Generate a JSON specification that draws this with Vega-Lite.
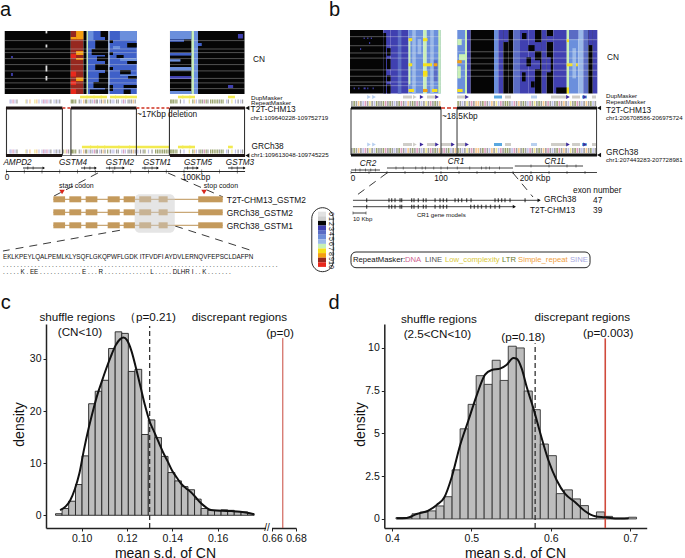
{
"$schema":"https://vega.github.io/schema/vega-lite/v6.json",
"background":"white","padding":0,"spacing":0,"bounds":"flush","columns":2,
"config":{"view":{"stroke":null},"font":"Liberation Sans","concat":{"spacing":0}},
"datasets":{
"heatA":[
{"s0":0,"s1":21,"k":-1,"k1":36.2,"cn":2},{"s0":0,"s1":21,"k":36.2,"k1":43.3,"cn":10},{"s0":0,"s1":21,"k":43.3,"k1":45.2,"cn":2},{"s0":0,"s1":21,"k":45.2,"k1":45.9,"cn":7},{"s0":0,"s1":21,"k":45.9,"k1":55.5,"cn":4},{"s0":0,"s1":21,"k":55.5,"k1":57.4,"cn":2},{"s0":0,"s1":21,"k":57.4,"k1":58.1,"cn":6},{"s0":0,"s1":21,"k":58.1,"k1":73.4,"cn":4},
{"s0":0,"s1":2.8,"k":39.2,"k1":43.3,"cn":9},{"s0":2,"s1":2.8,"k":36.2,"k1":39.2,"cn":9},{"s0":6.7,"s1":8,"k":39.2,"k1":43.3,"cn":9},{"s0":9,"s1":9.6,"k":39.2,"k1":43.3,"cn":9},{"s0":15.5,"s1":16.7,"k":39.2,"k1":43.3,"cn":9},
{"s0":7.7,"s1":9,"k":36.2,"k1":39.2,"cn":11},{"s0":13.5,"s1":15.2,"k":36.2,"k1":39.2,"cn":11},{"s0":16.7,"s1":18,"k":36.2,"k1":39.2,"cn":11},{"s0":19.3,"s1":21,"k":36.2,"k1":39.2,"cn":11},
{"s0":0,"s1":2,"k":53,"k1":55.5,"cn":2},{"s0":3,"s1":6,"k":50,"k1":55.5,"cn":2},{"s0":6,"s1":8,"k":48,"k1":55.5,"cn":2},{"s0":8.5,"s1":10,"k":51,"k1":55.5,"cn":2},{"s0":11,"s1":13,"k":50,"k1":55.5,"cn":2},{"s0":14,"s1":17,"k":52,"k1":55.5,"cn":2},{"s0":17,"s1":19,"k":49,"k1":55.5,"cn":2},{"s0":19.5,"s1":21,"k":47,"k1":55.5,"cn":2},{"s0":0,"s1":3,"k":45.9,"k1":49,"cn":5},
{"s0":0,"s1":3,"k":63.9,"k1":73.4,"cn":5},{"s0":4,"s1":5.5,"k":68,"k1":73.4,"cn":2},{"s0":8,"s1":9,"k":62,"k1":66,"cn":2},{"s0":10,"s1":11,"k":68,"k1":73.4,"cn":2},{"s0":13,"s1":14.5,"k":64,"k1":70,"cn":2},{"s0":15,"s1":16,"k":68.5,"k1":73.4,"cn":2},{"s0":18,"s1":19,"k":66,"k1":73.4,"cn":2},{"s0":19.5,"s1":21,"k":66,"k1":70,"cn":2},{"s0":3,"s1":4,"k":58.1,"k1":60,"cn":2},{"s0":7,"s1":8,"k":58.1,"k1":60,"cn":2},{"s0":12,"s1":13,"k":58.1,"k1":60,"cn":2},{"s0":18,"s1":20,"k":58.1,"k1":60,"cn":2},{"s0":5,"s1":6,"k":60,"k1":64,"cn":5},{"s0":9,"s1":10,"k":64,"k1":73.4,"cn":5},{"s0":14.5,"s1":15,"k":64,"k1":73.4,"cn":5},
{"s0":0,"s1":21,"k":92.1,"k1":104.3,"cn":2},{"s0":0,"s1":2.8,"k":92.1,"k1":104.3,"cn":5},{"s0":2.8,"s1":3.6,"k":92.1,"k1":100,"cn":4},{"s0":7.3,"s1":8.2,"k":92.1,"k1":104.3,"cn":4},{"s0":9.4,"s1":10.2,"k":92.1,"k1":98,"cn":5},{"s0":12,"s1":13.2,"k":92.1,"k1":104.3,"cn":5},{"s0":15,"s1":16,"k":92.1,"k1":104.3,"cn":3},{"s0":20,"s1":21,"k":92.1,"k1":104.3,"cn":5},
{"s0":0,"s1":21,"k":104.3,"k1":105.6,"cn":7},{"s0":0,"s1":21,"k":105.6,"k1":107.9,"cn":5},{"s0":0,"s1":21,"k":107.9,"k1":134.1,"cn":2},{"s0":1,"s1":2.5,"k":130.4,"k1":133.2,"cn":3},{"s0":18,"s1":19,"k":124.8,"k1":127.7,"cn":3},{"s0":4,"s1":5,"k":107.9,"k1":110,"cn":4},
{"s0":8.3,"s1":9,"k":2.6,"k1":3.6,"cn":3},{"s0":14,"s1":15,"k":2.6,"k1":3.6,"cn":3},{"s0":0,"s1":0.8,"k":22,"k1":23,"cn":0},{"s0":4.5,"s1":5.5,"k":22,"k1":23,"cn":0},{"s0":11.5,"s1":13.5,"k":22,"k1":23,"cn":0},{"s0":15,"s1":16.5,"k":22,"k1":23,"cn":0}],
"heatB":[
{"s0":0,"s1":21,"k":-1.1,"k1":35.9,"cn":2},{"s0":0,"s1":21,"k":35.9,"k1":44.1,"cn":3},{"s0":0,"s1":21,"k":44.1,"k1":63.7,"cn":3},{"s0":0,"s1":21,"k":63.7,"k1":80.3,"cn":5},{"s0":0,"s1":21,"k":80.3,"k1":84.1,"cn":7},{"s0":0,"s1":21,"k":84.1,"k1":99.7,"cn":5},
{"s0":1,"s1":21,"k":35.9,"k1":39,"cn":2},{"s0":6,"s1":8.5,"k":40,"k1":44,"cn":2},{"s0":9.5,"s1":13,"k":40,"k1":44,"cn":2},{"s0":15,"s1":17,"k":40,"k1":44,"cn":2},{"s0":18,"s1":21,"k":40,"k1":44,"cn":2},{"s0":0,"s1":21,"k":52,"k1":56,"cn":4},{"s0":0,"s1":21,"k":68,"k1":72,"cn":6},{"s0":0,"s1":21,"k":88,"k1":92,"cn":6},{"s0":3,"s1":18,"k":64,"k1":66,"cn":7},{"s0":3,"s1":8,"k":74,"k1":78,"cn":6},{"s0":10,"s1":17,"k":92,"k1":96,"cn":4},{"s0":0,"s1":21,"k":97,"k1":99.7,"cn":7},
{"s0":2.7,"s1":3.7,"k":64,"k1":68,"cn":8},{"s0":2.7,"s1":3.7,"k":80,"k1":85,"cn":8},{"s0":11,"s1":12,"k":64,"k1":68,"cn":8},{"s0":11,"s1":12,"k":80,"k1":90,"cn":8},{"s0":11,"s1":12,"k":92,"k1":96,"cn":9},{"s0":13.5,"s1":15.5,"k":80,"k1":85,"cn":8},{"s0":19.5,"s1":20.5,"k":64,"k1":70,"cn":8},{"s0":19.5,"s1":20.5,"k":80,"k1":85,"cn":9},{"s0":19.5,"s1":20.5,"k":90,"k1":96,"cn":8},
{"s0":2.5,"s1":3,"k":14,"k1":15.3,"cn":3},{"s0":2.5,"s1":3,"k":18,"k1":19.3,"cn":3},{"s0":2.5,"s1":3,"k":22,"k1":23.3,"cn":3},{"s0":6,"s1":6.6,"k":10,"k1":11.3,"cn":3},{"s0":4,"s1":4.6,"k":20,"k1":21.3,"cn":3},{"s0":19,"s1":19.6,"k":3,"k1":4.3,"cn":3},{"s0":19,"s1":19.6,"k":8,"k1":9.3,"cn":3},{"s0":19,"s1":19.6,"k":14,"k1":16.3,"cn":3},{"s0":19,"s1":19.6,"k":18,"k1":19.3,"cn":3},{"s0":19,"s1":19.6,"k":24,"k1":25.3,"cn":3},
{"s0":0,"s1":21,"k":118.1,"k1":126.7,"cn":5},{"s0":0,"s1":21,"k":126.7,"k1":128.9,"cn":7},{"s0":0,"s1":21,"k":128.9,"k1":133,"cn":3},{"s0":0,"s1":21,"k":133,"k1":158.9,"cn":2},{"s0":0,"s1":21,"k":158.9,"k1":163.7,"cn":5},{"s0":0,"s1":21,"k":163.7,"k1":169.2,"cn":3},{"s0":0,"s1":21,"k":169.2,"k1":174.8,"cn":2},{"s0":0,"s1":21,"k":174.8,"k1":180.3,"cn":2},{"s0":0,"s1":21,"k":180.3,"k1":187.8,"cn":4},{"s0":0,"s1":21,"k":187.8,"k1":197,"cn":3},{"s0":0,"s1":21,"k":197,"k1":204.4,"cn":3},{"s0":0,"s1":21,"k":204.4,"k1":211.9,"cn":2},{"s0":0,"s1":21,"k":211.9,"k1":217.4,"cn":3},{"s0":0,"s1":21,"k":217.4,"k1":224.8,"cn":2},{"s0":0,"s1":21,"k":224.8,"k1":239.7,"cn":3},{"s0":0,"s1":21,"k":239.7,"k1":242.2,"cn":7},{"s0":0,"s1":21,"k":242.2,"k1":252.6,"cn":5},{"s0":0,"s1":21,"k":252.6,"k1":258.1,"cn":6},{"s0":0,"s1":21,"k":258.1,"k1":263.7,"cn":4},{"s0":0,"s1":21,"k":263.7,"k1":268.6,"cn":2},{"s0":0,"s1":21,"k":268.6,"k1":273.7,"cn":3},
{"s0":3,"s1":5,"k":118.1,"k1":123,"cn":7},{"s0":8,"s1":10,"k":120,"k1":126.7,"cn":7},{"s0":12,"s1":16,"k":118.1,"k1":122,"cn":7},{"s0":10,"s1":11,"k":118.1,"k1":123,"cn":9},{"s0":19.5,"s1":20.5,"k":118.1,"k1":124,"cn":8},
{"s0":0,"s1":4,"k":169.2,"k1":174.8,"cn":3},{"s0":1,"s1":3,"k":190,"k1":195,"cn":2},{"s0":5,"s1":7,"k":197,"k1":204,"cn":2},{"s0":9,"s1":12,"k":195,"k1":200,"cn":2},{"s0":14,"s1":17,"k":190,"k1":194,"cn":2},{"s0":17,"s1":19,"k":200,"k1":204,"cn":2},{"s0":4,"s1":7,"k":204.4,"k1":211.9,"cn":3},{"s0":10,"s1":13,"k":204.4,"k1":210,"cn":3},{"s0":2,"s1":4,"k":217.4,"k1":224.8,"cn":3},{"s0":9,"s1":14,"k":217.4,"k1":222,"cn":3},{"s0":19,"s1":21,"k":228,"k1":239.7,"cn":2},{"s0":3,"s1":4,"k":239.7,"k1":242.2,"cn":8},{"s0":11,"s1":12,"k":239.7,"k1":252,"cn":8},{"s0":19,"s1":21,"k":239.7,"k1":242.2,"cn":8},{"s0":0,"s1":3,"k":242.2,"k1":252.6,"cn":4},{"s0":6,"s1":16,"k":246,"k1":250,"cn":6},{"s0":0,"s1":5,"k":263.7,"k1":268.6,"cn":3}],
"linesA":[{"s":3.2,"k":-1,"k1":73.4},{"s":6,"k":-1,"k1":73.4},{"s":7.2,"k":-1,"k1":73.4},{"s":9.2,"k":-1,"k1":73.4},{"s":11.2,"k":-1,"k1":73.4},{"s":13.3,"k":-1,"k1":73.4},{"s":15.8,"k":-1,"k1":73.4},{"s":17.3,"k":-1,"k1":73.4},{"s":19.2,"k":-1,"k1":73.4},{"s":3.2,"k":92.1,"k1":134.1},{"s":6,"k":92.1,"k1":134.1},{"s":7.2,"k":92.1,"k1":134.1},{"s":9.2,"k":92.1,"k1":134.1},{"s":11.2,"k":92.1,"k1":134.1},{"s":13.3,"k":92.1,"k1":134.1},{"s":15.8,"k":92.1,"k1":134.1},{"s":17.3,"k":92.1,"k1":134.1},{"s":19.2,"k":92.1,"k1":134.1}],
"linesB":[{"s":2.2,"k":-1.1,"k1":99.7},{"s":5.2,"k":-1.1,"k1":99.7},{"s":7.6,"k":-1.1,"k1":99.7},{"s":9.3,"k":-1.1,"k1":99.7},{"s":13.2,"k":-1.1,"k1":99.7},{"s":15.3,"k":-1.1,"k1":99.7},{"s":17.2,"k":-1.1,"k1":99.7},{"s":18.4,"k":-1.1,"k1":99.7},{"s":3.2,"k":118.1,"k1":273.7},{"s":7.2,"k":118.1,"k1":273.7},{"s":9.3,"k":118.1,"k1":273.7},{"s":11.2,"k":118.1,"k1":273.7},{"s":13.3,"k":118.1,"k1":273.7},{"s":15.3,"k":118.1,"k1":273.7}],
"rmA":[{"k":2,"c":"SINE"},{"k":2.6,"c":"SINE"},{"k":3.7,"c":"DNA"},{"k":4.8,"c":"SINE"},{"k":5.9,"c":"LINE"},{"k":11,"c":"LC"},{"k":11.6,"c":"SINE"},{"k":13.2,"c":"SR"},{"k":16,"c":"LC"},{"k":17.1,"c":"SR"},{"k":18.3,"c":"SINE"},{"k":20,"c":"SINE"},{"k":21,"c":"DNA"},{"k":21.8,"c":"SINE"},{"k":22.8,"c":"DNA"},{"k":24,"c":"SINE"},{"k":25,"c":"LINE"},{"k":26.8,"c":"SINE"},{"k":28,"c":"LINE"},{"k":29,"c":"SINE"},{"k":30,"c":"LINE"},{"k":36.5,"c":"LTR"},{"k":37.2,"c":"LTR"},{"k":38,"c":"LTR"},{"k":39,"c":"LTR"},{"k":41,"c":"LINE"},{"k":42,"c":"SINE"},{"k":43.5,"c":"SR"},{"k":44.5,"c":"LINE"},{"k":45.2,"c":"LTR"},{"k":46.5,"c":"SINE"},{"k":47.5,"c":"LINE"},{"k":48.5,"c":"SINE"},{"k":49.5,"c":"DNA"},{"k":50.5,"c":"LINE"},{"k":51.2,"c":"LINE"},{"k":52.5,"c":"SINE"},{"k":53.5,"c":"LINE"},{"k":54.5,"c":"SR"},{"k":55.5,"c":"LINE"},{"k":57,"c":"LTR"},{"k":58.5,"c":"LINE"},{"k":59.5,"c":"SINE"},{"k":60.5,"c":"SINE"},{"k":62,"c":"LINE"},{"k":63,"c":"LINE"},{"k":65,"c":"SINE"},{"k":66,"c":"DNA"},{"k":67,"c":"SINE"},{"k":68.5,"c":"LINE"},{"k":69.5,"c":"LINE"},{"k":70.5,"c":"LINE"},{"k":71.5,"c":"SR"},{"k":72.5,"c":"LINE"},{"k":92.5,"c":"LTR"},{"k":93.2,"c":"LTR"},{"k":94,"c":"LTR"},{"k":95,"c":"LTR"},{"k":96,"c":"LTR"},{"k":98,"c":"LINE"},{"k":100,"c":"SINE"},{"k":103,"c":"LC"},{"k":105,"c":"LTR"},{"k":106,"c":"SR"},{"k":107,"c":"SINE"},{"k":108.5,"c":"LINE"},{"k":109.5,"c":"LTR"},{"k":110.5,"c":"LINE"},{"k":111.5,"c":"DNA"},{"k":112.5,"c":"LTR"},{"k":113.5,"c":"LINE"},{"k":115,"c":"LTR"},{"k":116,"c":"LTR"},{"k":117,"c":"LTR"},{"k":118,"c":"LTR"},{"k":119,"c":"LTR"},{"k":120,"c":"LINE"},{"k":121,"c":"LTR"},{"k":122,"c":"LTR"},{"k":124,"c":"SINE"},{"k":125,"c":"LINE"},{"k":127,"c":"LC"},{"k":129,"c":"SINE"},{"k":130.5,"c":"LINE"},{"k":132,"c":"SINE"},{"k":133,"c":"LINE"},
{"k":32,"c":"LINE","only":1},{"k":33,"c":"LC","only":1},{"k":34,"c":"DNA","only":1},{"k":35,"c":"LINE","only":1},{"k":74,"c":"SINE","only":1},{"k":75.5,"c":"LINE","only":1},{"k":77,"c":"LINE","only":1},{"k":78,"c":"LTR","only":1},{"k":80,"c":"SINE","only":1},{"k":82,"c":"LINE","only":1},{"k":84,"c":"LTR","only":1},{"k":85,"c":"LTR","only":1},{"k":86,"c":"LTR","only":1},{"k":87,"c":"LTR","only":1},{"k":88,"c":"LTR","only":1},{"k":89,"c":"LTR","only":1},{"k":90,"c":"LTR","only":1},{"k":91,"c":"LTR","only":1}],
"rmB":[{"k":1,"c":"LINE"},{"k":3.5,"c":"LTR"},{"k":6,"c":"LINE"},{"k":8.5,"c":"SR"},{"k":11,"c":"LINE"},{"k":13.5,"c":"SINE"},{"k":16,"c":"DNA"},{"k":18.5,"c":"LINE"},{"k":21,"c":"LC"},{"k":23.5,"c":"LINE"},{"k":26,"c":"SINE"},{"k":28.5,"c":"LTR"},{"k":31,"c":"LINE"},{"k":33.5,"c":"LINE"},{"k":36,"c":"LTR"},{"k":38.5,"c":"DNA"},{"k":41,"c":"LINE"},{"k":43.5,"c":"LTR"},{"k":46,"c":"LINE"},{"k":48.5,"c":"SINE"},{"k":51,"c":"LINE"},{"k":53.5,"c":"LTR"},{"k":56,"c":"DNA"},{"k":58.5,"c":"LINE"},{"k":61,"c":"SINE"},{"k":63.5,"c":"SR"},{"k":66,"c":"LINE"},{"k":68.5,"c":"LTR"},{"k":71,"c":"LINE"},{"k":73.5,"c":"DNA"},{"k":76,"c":"LINE"},{"k":78.5,"c":"SINE"},{"k":81,"c":"LINE"},{"k":83.5,"c":"LC"},{"k":86,"c":"LINE"},{"k":88.5,"c":"DNA"},{"k":91,"c":"LINE"},{"k":93.5,"c":"LTR"},{"k":96,"c":"LINE"},{"k":98.5,"c":"SR"},
{"k":119,"c":"LTR"},{"k":121.5,"c":"LINE"},{"k":124,"c":"SINE"},{"k":126.5,"c":"LINE"},{"k":129,"c":"LC"},{"k":131.5,"c":"LINE"},{"k":134,"c":"DNA"},{"k":136.5,"c":"LINE"},{"k":139,"c":"SR"},{"k":141.5,"c":"SR"},{"k":144,"c":"LINE"},{"k":146.5,"c":"LTR"},{"k":149,"c":"DNA"},{"k":151.5,"c":"LINE"},{"k":154,"c":"SINE"},{"k":156.5,"c":"SR"},{"k":159,"c":"LINE"},{"k":161.5,"c":"LC"},{"k":164,"c":"SINE"},{"k":166.5,"c":"DNA"},{"k":169,"c":"LINE"},{"k":171.5,"c":"LTR"},{"k":174,"c":"LTR"},{"k":176.5,"c":"LINE"},{"k":179,"c":"SINE"},{"k":181.5,"c":"DNA"},{"k":184,"c":"LINE"},{"k":186.5,"c":"SR"},{"k":189,"c":"LINE"},{"k":191.5,"c":"LTR"},{"k":194,"c":"LINE"},{"k":196.5,"c":"SINE"},{"k":199,"c":"DNA"},{"k":201.5,"c":"LINE"},{"k":204,"c":"LC"},{"k":206.5,"c":"LINE"},{"k":209,"c":"LTR"},{"k":211.5,"c":"LINE"},{"k":214,"c":"SR"},{"k":216.5,"c":"LINE"},{"k":219,"c":"DNA"},{"k":221.5,"c":"LINE"},{"k":224,"c":"SINE"},{"k":226.5,"c":"LINE"},{"k":229,"c":"LTR"},{"k":231.5,"c":"DNA"},{"k":234,"c":"LINE"},{"k":236.5,"c":"SR"},{"k":239,"c":"LINE"},{"k":241.5,"c":"SINE"},{"k":244,"c":"LC"},{"k":246.5,"c":"LINE"},{"k":249,"c":"LTR"},{"k":251.5,"c":"DNA"},{"k":254,"c":"LINE"},{"k":256.5,"c":"SINE"},{"k":259,"c":"LINE"},{"k":261.5,"c":"SR"},{"k":264,"c":"LINE"},{"k":266.5,"c":"LTR"},{"k":269,"c":"SINE"},{"k":271.5,"c":"LINE"},
{"k":101,"c":"LINE","only":1},{"k":103.5,"c":"DNA","only":1},{"k":106,"c":"LINE","only":1},{"k":108.5,"c":"LTR","only":1},{"k":111,"c":"SINE","only":1},{"k":113.5,"c":"LINE","only":1},{"k":116,"c":"SR","only":1}],
"tenA":[{"k":0,"y":170.5},{"k":10,"y":170.5},{"k":20,"y":170.5},{"k":30,"y":170.5},{"k":40,"y":170.5},{"k":50,"y":170.5},{"k":60,"y":170.5},{"k":70,"y":170.5},{"k":80,"y":170.5},{"k":90,"y":170.5},{"k":100,"y":170.5},{"k":110,"y":170.5},{"k":120,"y":170.5},{"k":130,"y":170.5}],
"cellsLegend":[{"cn":0,"k":175.5,"k1":180,"y":210.7,"y1":215.3},{"cn":1,"k":175.5,"k1":180,"y":215.3,"y1":219.9},{"cn":2,"k":175.5,"k1":180,"y":219.9,"y1":224.5},{"cn":3,"k":175.5,"k1":180,"y":224.5,"y1":229.1},{"cn":4,"k":175.5,"k1":180,"y":229.1,"y1":233.7},{"cn":5,"k":175.5,"k1":180,"y":233.7,"y1":238.3},{"cn":6,"k":175.5,"k1":180,"y":238.3,"y1":242.9},{"cn":7,"k":175.5,"k1":180,"y":242.9,"y1":247.5},{"cn":8,"k":175.5,"k1":180,"y":247.5,"y1":252.1},{"cn":9,"k":175.5,"k1":180,"y":252.1,"y1":256.7},{"cn":10,"k":175.5,"k1":180,"y":256.7,"y1":261.3},{"cn":11,"k":175.5,"k1":180,"y":261.3,"y1":265.9}],
"binsC":[{"x":0.0885,"x1":0.0914,"d":0.3},{"x":0.0914,"x1":0.0943,"d":1.3},{"x":0.0943,"x1":0.0973,"d":2.7},{"x":0.0973,"x1":0.1002,"d":5.9},{"x":0.1002,"x1":0.1031,"d":11.4},{"x":0.1031,"x1":0.106,"d":21.4},{"x":0.106,"x1":0.1089,"d":23.8},{"x":0.1089,"x1":0.1119,"d":25.9},{"x":0.1119,"x1":0.1148,"d":32},{"x":0.1148,"x1":0.1177,"d":35.2},{"x":0.1177,"x1":0.1206,"d":34.9},{"x":0.1206,"x1":0.1235,"d":27.6},{"x":0.1235,"x1":0.1265,"d":28},{"x":0.1265,"x1":0.1294,"d":15.5},{"x":0.1294,"x1":0.1323,"d":18.3},{"x":0.1323,"x1":0.1352,"d":14.9},{"x":0.1352,"x1":0.1381,"d":11.3},{"x":0.1381,"x1":0.1411,"d":8.2},{"x":0.1411,"x1":0.144,"d":6.6},{"x":0.144,"x1":0.1469,"d":5.5},{"x":0.1469,"x1":0.1498,"d":4.9},{"x":0.1498,"x1":0.1527,"d":3.1},{"x":0.1527,"x1":0.1557,"d":1.3},{"x":0.1557,"x1":0.1586,"d":0.95},{"x":0.1586,"x1":0.1615,"d":0.95},{"x":0.1615,"x1":0.1644,"d":1.05},{"x":0.1644,"x1":0.1673,"d":0.95},{"x":0.1673,"x1":0.1703,"d":0.7},{"x":0.1703,"x1":0.1732,"d":0.65},{"x":0.1732,"x1":0.1761,"d":0.3}],
"curveC":[{"x":0.0905,"d":1},{"x":0.093,"d":1.7},{"x":0.095,"d":2.9},{"x":0.097,"d":5},{"x":0.099,"d":8},{"x":0.101,"d":12.5},{"x":0.103,"d":16.5},{"x":0.105,"d":20},{"x":0.107,"d":23.2},{"x":0.109,"d":25.8},{"x":0.111,"d":28.3},{"x":0.113,"d":30.6},{"x":0.115,"d":32.6},{"x":0.117,"d":33.8},{"x":0.1185,"d":34.1},{"x":0.12,"d":33.6},{"x":0.122,"d":31.5},{"x":0.124,"d":28.2},{"x":0.126,"d":24.6},{"x":0.128,"d":21},{"x":0.13,"d":18},{"x":0.132,"d":16},{"x":0.134,"d":14},{"x":0.136,"d":12},{"x":0.138,"d":10.3},{"x":0.14,"d":8.5},{"x":0.142,"d":7.2},{"x":0.144,"d":6},{"x":0.146,"d":5.2},{"x":0.148,"d":4.5},{"x":0.15,"d":3.6},{"x":0.152,"d":2.6},{"x":0.154,"d":1.8},{"x":0.156,"d":1.2},{"x":0.158,"d":0.95},{"x":0.162,"d":0.85},{"x":0.166,"d":0.8},{"x":0.17,"d":0.7},{"x":0.173,"d":0.5},{"x":0.176,"d":0.2}],
"binsD":[{"x":0.405,"x1":0.4151,"d":0.08},{"x":0.4151,"x1":0.4252,"d":0.08},{"x":0.4252,"x1":0.4353,"d":0.3},{"x":0.4353,"x1":0.4454,"d":0.4},{"x":0.4454,"x1":0.4555,"d":0.47},{"x":0.4555,"x1":0.4656,"d":0.76},{"x":0.4656,"x1":0.4757,"d":1.3},{"x":0.4757,"x1":0.4858,"d":2.87},{"x":0.4858,"x1":0.4959,"d":5.27},{"x":0.4959,"x1":0.506,"d":6.7},{"x":0.506,"x1":0.5161,"d":8.38},{"x":0.5161,"x1":0.5262,"d":7.87},{"x":0.5262,"x1":0.5363,"d":9.28},{"x":0.5363,"x1":0.5464,"d":8.1},{"x":0.5464,"x1":0.5565,"d":10.1},{"x":0.5565,"x1":0.5666,"d":10},{"x":0.5666,"x1":0.5767,"d":7.48},{"x":0.5767,"x1":0.5868,"d":6.39},{"x":0.5868,"x1":0.5969,"d":4.38},{"x":0.5969,"x1":0.607,"d":3.7},{"x":0.607,"x1":0.6171,"d":1.48},{"x":0.6171,"x1":0.6272,"d":1.7},{"x":0.6272,"x1":0.6373,"d":1.17},{"x":0.6373,"x1":0.6474,"d":0.78},{"x":0.6474,"x1":0.6575,"d":0.02},{"x":0.6575,"x1":0.6676,"d":0.41},{"x":0.6676,"x1":0.6777,"d":0.15},{"x":0.6777,"x1":0.6878,"d":0.04},{"x":0.6878,"x1":0.6979,"d":0.04},{"x":0.6979,"x1":0.708,"d":0.1}],
"curveD":[{"x":0.4059,"d":0.04},{"x":0.4185,"d":0.06},{"x":0.4311,"d":0.29},{"x":0.4458,"d":0.49},{"x":0.4563,"d":0.82},{"x":0.466,"d":1.27},{"x":0.4752,"d":2.44},{"x":0.4857,"d":4.3},{"x":0.4962,"d":5.76},{"x":0.5067,"d":7.23},{"x":0.5172,"d":8.44},{"x":0.5256,"d":8.71},{"x":0.5361,"d":8.79},{"x":0.5445,"d":9.02},{"x":0.5529,"d":9.41},{"x":0.5571,"d":9.37},{"x":0.5634,"d":8.79},{"x":0.5697,"d":7.71},{"x":0.5782,"d":6.45},{"x":0.5866,"d":5.04},{"x":0.5971,"d":3.42},{"x":0.6076,"d":2.25},{"x":0.6181,"d":1.46},{"x":0.6307,"d":0.98},{"x":0.6433,"d":0.45},{"x":0.6559,"d":0.16},{"x":0.6685,"d":0.1},{"x":0.6811,"d":0.02},{"x":0.6979,"d":0.04}]
},
"concat":[
{"width":340,"height":300,
"resolve":{"scale":{"y":"independent","color":"independent"}},
"encoding":{"x":{"field":"k","type":"quantitative","axis":null,"scale":{"domain":[-3.66,187.89],"nice":false,"zero":false}},"y":{"field":"y","type":"quantitative","axis":null,"scale":{"domain":[0,300],"reverse":true,"nice":false,"zero":false}}},
"layer":[
{"data":{"name":"heatA"},"mark":{"type":"rect"},"encoding":{"x2":{"field":"k1"},"y":{"field":"s0","type":"quantitative","axis":null,"scale":{"domain":[0,21],"range":[30,93],"nice":false,"zero":false}},"y2":{"field":"s1"},"color":{"field":"cn","type":"ordinal","legend":null,"scale":{"domain":[0,1,2,3,4,5,6,7,8,9,10,11],"range":["#e2e2e2","#cfcfcf","#050505","#4040b0","#3f60c8","#6b8fdc","#9ab8e8","#c8f0b4","#f6e01a","#f5a010","#96281f","#e8281c"]}}}},
{"data":{"name":"linesA"},"mark":{"type":"rule","color":"#dddddd","strokeWidth":0.6,"opacity":0.6},"encoding":{"x2":{"field":"k1"},"y":{"field":"s","type":"quantitative","axis":null,"scale":{"domain":[0,21],"range":[30,93],"nice":false,"zero":false}}}},
{"data":{"values":[{"k":41.4,"k1":56.6,"y":96},{"k":58.3,"k1":73.5,"y":96},{"k":96.6,"k1":106.2,"y":96},{"k":124.8,"k1":128.7,"y":96},{"k":42.5,"k1":73,"y":146},{"k":73,"k1":92.1,"y":146},{"k":96.6,"k1":106.2,"y":146},{"k":124.8,"k1":127.5,"y":146}]},"mark":{"type":"rule","color":"#f2ea50","strokeWidth":2.6},"encoding":{"x2":{"field":"k1"}}},
{"data":{"values":[{"k":46,"y":96},{"k":50,"y":96},{"k":54,"y":96},{"k":62,"y":96},{"k":68,"y":96},{"k":100,"y":96},{"k":104,"y":96},{"k":48,"y":146},{"k":52,"y":146},{"k":56,"y":146},{"k":64,"y":146},{"k":70,"y":146},{"k":100,"y":146},{"k":104,"y":146}]},"mark":{"type":"point","shape":"triangle-right","filled":true,"size":14,"color":"#f2ea50","opacity":1}},
{"data":{"name":"rmA"},"transform":[{"filter":"!datum.only"},{"calculate":"100.5","as":"y"}],"mark":{"type":"tick","orient":"vertical","height":4,"thickness":1.2},"encoding":{"color":{"field":"c","type":"nominal","legend":null,"scale":{"domain":["DNA","LINE","LC","LTR","SR","SINE"],"range":["#d070a0","#777777","#e6d860","#6f7d30","#f2b060","#a8a8e0"]}}}},
{"data":{"name":"rmA"},"transform":[{"calculate":"150.5","as":"y"}],"mark":{"type":"tick","orient":"vertical","height":4,"thickness":1.2},"encoding":{"color":{"field":"c","type":"nominal","legend":null,"scale":{"domain":["DNA","LINE","LC","LTR","SR","SINE"],"range":["#d070a0","#777777","#e6d860","#6f7d30","#f2b060","#a8a8e0"]}}}},
{"data":{"values":[{"k":31.3,"k1":92.1,"y":154.5}]},"mark":{"type":"rule","color":"#777777","strokeWidth":1},"encoding":{"x2":{"field":"k1"}}},
{"data":{"values":[{"k":0,"y":107,"y1":154.5},{"k":31.5,"y":107,"y1":154.5},{"k":36.3,"y":107,"y1":154.5},{"k":73.2,"y":107,"y1":154.5},{"k":91.8,"y":107,"y1":154.5},{"k":134.1,"y":107,"y1":154.5}]},"mark":{"type":"rule","color":"#333333","strokeWidth":1.1},"encoding":{"y2":{"field":"y1"}}},
{"data":{"values":[{"k":-0.3,"k1":31.5,"y":107},{"k":36.3,"k1":73.2,"y":107},{"k":92.1,"k1":134.4,"y":107},{"k":-0.3,"k1":31.3,"y":154.5},{"k":92.1,"k1":134.4,"y":154.5}]},"mark":{"type":"rule","color":"#1c1414","strokeWidth":2.8},"encoding":{"x2":{"field":"k1"}}},
{"data":{"values":[{"k":31.5,"k1":36.3,"y":107},{"k":73.2,"k1":92.1,"y":107}]},"mark":{"type":"rule","color":"#d03020","strokeWidth":1.4,"strokeDash":[3,2]},"encoding":{"x2":{"field":"k1"}}},
{"data":{"values":[{"k":135.7,"y":107},{"k":135.7,"y":154.5}]},"mark":{"type":"point","shape":"triangle-left","filled":true,"size":22,"color":"#111111","opacity":1}},
{"data":{"values":[{"k":9.3,"k1":21.1,"y":167},{"k":42,"k1":50.4,"y":167},{"k":56,"k1":66.2,"y":167},{"k":76.3,"k1":85.4,"y":167},{"k":100,"k1":107.9,"y":167},{"k":124.8,"k1":134.4,"y":167},{"k":-0.3,"k1":134.4,"y":170.5}]},"mark":{"type":"rule","color":"#111111","strokeWidth":0.9},"encoding":{"x2":{"field":"k1"}}},
{"data":{"values":[{"k":21,"y":167},{"k":50.2,"y":167},{"k":66,"y":167},{"k":85.2,"y":167},{"k":107.7,"y":167},{"k":134,"y":167}]},"mark":{"type":"point","shape":"triangle-right","filled":true,"size":8,"color":"#111111","opacity":1}},
{"data":{"values":[{"k":12,"y":167},{"k":15,"y":167},{"k":44,"y":167},{"k":47,"y":167},{"k":58,"y":167},{"k":61,"y":167},{"k":78,"y":167},{"k":82,"y":167},{"k":102,"y":167},{"k":105,"y":167},{"k":127,"y":167},{"k":130,"y":167}]},"mark":{"type":"tick","orient":"vertical","height":3,"thickness":0.9,"color":"#111111"}},
{"data":{"name":"tenA"},"mark":{"type":"tick","orient":"vertical","height":4,"thickness":0.7,"color":"#111111"}},
{"data":{"values":[{"k":51.5,"k1":26.8,"y":172,"y1":195},{"k":91,"k1":122,"y":172,"y1":196},{"k":63.9,"k1":-2,"y":229.3,"y1":250},{"k":95,"k1":138.9,"y":225,"y1":250}]},"mark":{"type":"rule","color":"#222222","strokeWidth":0.9,"strokeDash":[8,6]},"encoding":{"x2":{"field":"k1"},"y2":{"field":"y1"}}},
{"data":{"values":[{"k":26.4,"k1":121.8,"y":198.3},{"k":26.4,"k1":121.8,"y":211.3},{"k":26.4,"k1":121.8,"y":224.3}]},"mark":{"type":"rule","color":"#c9a877","strokeWidth":1.2},"encoding":{"x2":{"field":"k1"}}},
{"data":{"values":[{"k":26.4,"k1":33,"ys":[198.3,211.3,224.3]},{"k":35.4,"k1":42.1,"ys":[198.3,211.3,224.3]},{"k":44.6,"k1":51.2,"ys":[198.3,211.3,224.3]},{"k":57,"k1":63.8,"ys":[198.3,211.3,224.3]},{"k":66,"k1":72.4,"ys":[198.3,211.3,224.3]},{"k":74.8,"k1":81.5,"ys":[198.3,211.3,224.3]},{"k":85.7,"k1":90.8,"ys":[198.3,211.3,224.3]},{"k":108,"k1":121.8,"ys":[198.3,211.3,224.3]}]},"transform":[{"flatten":["ys"],"as":["y"]}],"mark":{"type":"rule","color":"#c49a5c","strokeWidth":6},"encoding":{"x2":{"field":"k1"}}},
{"data":{"values":[{"k":72.2,"k1":94.8,"y":193.3,"y1":231.7}]},"mark":{"type":"rect","color":"#cccccc","opacity":0.5,"cornerRadius":5},"encoding":{"x2":{"field":"k1"},"y2":{"field":"y1"}}},
{"data":{"values":[{"k":31.3,"y":191},{"k":111.3,"y":191}]},"mark":{"type":"point","shape":"triangle-down","filled":true,"size":30,"color":"#d8261c","opacity":1}},
{"data":{"name":"cellsLegend"},"mark":{"type":"rect"},"encoding":{"x2":{"field":"k1"},"y2":{"field":"y1"},"color":{"field":"cn","type":"ordinal","legend":null,"scale":{"domain":[0,1,2,3,4,5,6,7,8,9,10,11],"range":["#e2e2e2","#cfcfcf","#050505","#4040b0","#5a6cc4","#6f8fd8","#9ab8e8","#c8f0b4","#f6e01a","#f5a010","#96281f","#e8281c"]}}}},
{"data":{"values":[{"k":172,"k1":184.1,"y":206.7,"y1":270.7}]},"mark":{"type":"rect","fill":null,"stroke":"#111111","strokeWidth":0.9,"cornerRadius":11},"encoding":{"x2":{"field":"k1"},"y2":{"field":"y1"}}},
{"data":{"values":[{"k":182.6,"y":213,"t":"0"},{"k":182.6,"y":218,"t":"1"},{"k":182.6,"y":223,"t":"2"},{"k":182.6,"y":228,"t":"3"},{"k":182.6,"y":233,"t":"4"},{"k":182.6,"y":238,"t":"5"},{"k":182.6,"y":243,"t":"6"},{"k":182.6,"y":248,"t":"7"},{"k":182.6,"y":253,"t":"8"},{"k":182.6,"y":258,"t":"9"},{"k":182.6,"y":264,"t":"10"}]},"mark":{"type":"text","fontSize":7,"angle":90,"color":"#111111"},"encoding":{"text":{"field":"t"}}},
{"data":{"values":[{"k":138.9,"y":59,"t":"CN"},{"k":137.5,"y":109,"t":"T2T-CHM13"},{"k":138,"y":146,"t":"GRCh38"},{"k":73.5,"y":114,"t":"~17Kbp deletion"}]},"mark":{"type":"text","align":"left","fontSize":8.3,"color":"#111111"},"encoding":{"text":{"field":"t"}}},
{"data":{"values":[{"k":137.7,"y":96.5,"t":"DupMasker"},{"k":137.7,"y":102,"t":"RepeatMasker"},{"k":137.5,"y":117,"t":"chr1:109640228-109752719"},{"k":137.7,"y":154,"t":"chr1:109613048-109745225"}]},"mark":{"type":"text","align":"left","fontSize":6.2,"color":"#111111"},"encoding":{"text":{"field":"t"}}},
{"data":{"values":[{"k":6.2,"y":161.5,"t":"AMPD2"},{"k":37.5,"y":161.5,"t":"GSTM4"},{"k":63.9,"y":161.5,"t":"GSTM2"},{"k":84.8,"y":161.5,"t":"GSTM1"},{"k":107.9,"y":161.5,"t":"GSTM5"},{"k":131.5,"y":161.5,"t":"GSTM3"}]},"mark":{"type":"text","fontStyle":"italic","fontSize":8.2,"color":"#111111"},"encoding":{"text":{"field":"t"}}},
{"data":{"values":[{"k":0.3,"y":177,"t":"0"},{"k":106.8,"y":177,"t":"100Kbp"}]},"mark":{"type":"text","fontSize":8.2,"color":"#111111"},"encoding":{"text":{"field":"t"}}},
{"data":{"values":[{"k":39.4,"y":185,"t":"start codon"},{"k":120.8,"y":184.5,"t":"stop codon"}]},"mark":{"type":"text","fontSize":7,"color":"#111111"},"encoding":{"text":{"field":"t"}}},
{"data":{"values":[{"k":124.1,"y":198.5,"t":"T2T-CHM13_GSTM2"},{"k":124.1,"y":211.5,"t":"GRCh38_GSTM2"},{"k":124.1,"y":224.5,"t":"GRCh38_GSTM1"}]},"mark":{"type":"text","align":"left","fontSize":8.4,"color":"#111111"},"encoding":{"text":{"field":"t"}}},
{"data":{"values":[{"k":-2,"y":256,"t":"EKLKPEYLQALPEMLKLYSQFLGKQPWFLGDK ITFVDFI AYDVLERNQVFEPSCLDAFPN"},{"k":-2,"y":264,"t":". . . . . . . . . . . . . . . . . . . . . . . . . . . . . . . . . . . . . . . . . . . . . . . . . . . . . . . . . . . . . . . . . . . . . . . . . . . . . . ."},{"k":-2,"y":270.5,"t":". . . . . K . EE . . . . . . . . . . . . E . . . R . . . . . . . . . . . . . L . . . . . DLHR I . . K . . . . . . ."}]},"mark":{"type":"text","align":"left","fontSize":6.3,"color":"#111111"},"encoding":{"text":{"field":"t"}}},
{"data":{"values":[{"k":-3.66,"y":15,"t":"a"},{"k":181.7,"y":15,"t":"b"}]},"mark":{"type":"text","align":"left","baseline":"alphabetic","fontSize":20,"color":"#111111"},"encoding":{"text":{"field":"t"}}}
]},
{"width":345,"height":300,
"resolve":{"scale":{"y":"independent","color":"independent"}},
"encoding":{"x":{"field":"k","type":"quantitative","axis":null,"scale":{"domain":[-12.22,371.1],"nice":false,"zero":false}},"y":{"field":"y","type":"quantitative","axis":null,"scale":{"domain":[0,300],"reverse":true,"nice":false,"zero":false}}},
"layer":[
{"data":{"name":"heatB"},"mark":{"type":"rect"},"encoding":{"x2":{"field":"k1"},"y":{"field":"s0","type":"quantitative","axis":null,"scale":{"domain":[0,21],"range":[29,92.5],"nice":false,"zero":false}},"y2":{"field":"s1"},"color":{"field":"cn","type":"ordinal","legend":null,"scale":{"domain":[0,1,2,3,4,5,6,7,8,9,10,11],"range":["#e2e2e2","#cfcfcf","#050505","#4040b0","#5a6cc4","#6b8fdc","#9ab8e8","#c8f0b4","#f6e01a","#f5a010","#96281f","#e8281c"]}}}},
{"data":{"name":"linesB"},"mark":{"type":"rule","color":"#e6e6e6","strokeWidth":0.6,"opacity":0.6},"encoding":{"x2":{"field":"k1"},"y":{"field":"s","type":"quantitative","axis":null,"scale":{"domain":[0,21],"range":[29,92.5],"nice":false,"zero":false}}}},
{"data":{"values":[{"k":57.8,"k1":67.8,"y":96,"f":"g"},{"k":84.4,"k1":93.3,"y":96,"f":"g"},{"k":117.8,"k1":127.8,"y":96,"f":"g"},{"k":158.9,"k1":167.8,"y":96,"f":"b"},{"k":171.1,"k1":177.8,"y":96,"f":"g"},{"k":200,"k1":206.7,"y":96,"f":"p"},{"k":222.2,"k1":240,"y":96,"f":"g"},{"k":245.6,"k1":254.4,"y":96,"f":"g"},{"k":256.7,"k1":262,"y":96,"f":"b"},{"k":267.8,"k1":272.2,"y":96,"f":"g"},{"k":57.8,"k1":67.8,"y":143.5,"f":"g"},{"k":84.4,"k1":93.3,"y":143.5,"f":"g"},{"k":100,"k1":113.3,"y":143.5,"f":"g"},{"k":117.8,"k1":127.8,"y":143.5,"f":"g"},{"k":158.9,"k1":167.8,"y":143.5,"f":"b"},{"k":171.1,"k1":177.8,"y":143.5,"f":"g"},{"k":200,"k1":206.7,"y":143.5,"f":"p"},{"k":222.2,"k1":240,"y":143.5,"f":"g"},{"k":245.6,"k1":254.4,"y":143.5,"f":"g"},{"k":256.7,"k1":262,"y":143.5,"f":"b"},{"k":267.8,"k1":272.2,"y":143.5,"f":"g"}]},"mark":{"type":"rule","strokeWidth":3},"encoding":{"x2":{"field":"k1"},"color":{"field":"f","type":"nominal","legend":null,"scale":{"domain":["g","b","p","n"],"range":["#cfcdc8","#5aa8e0","#b8d0f0","#3c2a9c"]}}}},
{"data":{"values":[{"k":20,"y":96,"f":"p"},{"k":25.6,"y":96,"f":"p"},{"k":71,"y":96,"f":"g"},{"k":78.6,"y":96,"f":"n"},{"k":95.6,"y":96,"f":"n"},{"k":128.9,"y":96,"f":"n"},{"k":241.1,"y":96,"f":"n"},{"k":260,"y":96,"f":"n"},{"k":20,"y":143.5,"f":"p"},{"k":25.6,"y":143.5,"f":"p"},{"k":71,"y":143.5,"f":"g"},{"k":78.6,"y":143.5,"f":"n"},{"k":95.6,"y":143.5,"f":"n"},{"k":113.3,"y":143.5,"f":"n"},{"k":128.9,"y":143.5,"f":"n"},{"k":241.1,"y":143.5,"f":"n"},{"k":260,"y":143.5,"f":"n"}]},"mark":{"type":"point","shape":"triangle-right","filled":true,"size":18,"opacity":1},"encoding":{"color":{"field":"f","type":"nominal","legend":null,"scale":{"domain":["g","b","p","n"],"range":["#cfcdc8","#5aa8e0","#b8d0f0","#3c2a9c"]}}}},
{"data":{"name":"rmB"},"transform":[{"filter":"!datum.only"},{"calculate":"102.5","as":"y"}],"mark":{"type":"tick","orient":"vertical","height":5,"thickness":1.6},"encoding":{"color":{"field":"c","type":"nominal","legend":null,"scale":{"domain":["DNA","LINE","LC","LTR","SR","SINE"],"range":["#d070a0","#777777","#e6d860","#6f7d30","#f2b060","#a8a8e0"]}}}},
{"data":{"name":"rmB"},"transform":[{"calculate":"149.5","as":"y"}],"mark":{"type":"tick","orient":"vertical","height":5,"thickness":1.6},"encoding":{"color":{"field":"c","type":"nominal","legend":null,"scale":{"domain":["DNA","LINE","LC","LTR","SR","SINE"],"range":["#d070a0","#777777","#e6d860","#6f7d30","#f2b060","#a8a8e0"]}}}},
{"data":{"values":[{"k":0,"y":107,"y1":154},{"k":100,"y":107,"y1":154},{"k":117.8,"y":107,"y1":154},{"k":272.8,"y":107,"y1":154}]},"mark":{"type":"rule","color":"#444444","strokeWidth":1.1},"encoding":{"y2":{"field":"y1"}}},
{"data":{"values":[{"k":0,"k1":100,"y":107},{"k":117.8,"k1":273.3,"y":107},{"k":0,"k1":273.3,"y":154}]},"mark":{"type":"rule","color":"#111111","strokeWidth":2.8},"encoding":{"x2":{"field":"k1"}}},
{"data":{"values":[{"k":100,"k1":117.8,"y":107}]},"mark":{"type":"rule","color":"#d03020","strokeWidth":1.4,"strokeDash":[4,2]},"encoding":{"x2":{"field":"k1"}}},
{"data":{"values":[{"k":275.6,"y":107},{"k":275.6,"y":154}]},"mark":{"type":"point","shape":"triangle-left","filled":true,"size":22,"color":"#111111","opacity":1}},
{"data":{"values":[{"k":0,"k1":32.2,"y":169},{"k":40,"k1":180,"y":167},{"k":182,"k1":257.8,"y":165},{"k":0,"k1":273.3,"y":171.5},{"k":2.2,"k1":210,"y":199.3},{"k":2.2,"k1":182.2,"y":205.7},{"k":2.2,"k1":16.7,"y":212}]},"mark":{"type":"rule","color":"#111111","strokeWidth":0.8},"encoding":{"x2":{"field":"k1"}}},
{"data":{"values":[{"k":5,"y":169},{"k":10,"y":169},{"k":16,"y":169},{"k":22,"y":169},{"k":27,"y":169},{"k":50,"y":167},{"k":58,"y":167},{"k":72,"y":167},{"k":79,"y":167},{"k":83,"y":167},{"k":92,"y":167},{"k":100,"y":167},{"k":107,"y":167},{"k":118,"y":167},{"k":132,"y":167},{"k":145,"y":167},{"k":150,"y":167},{"k":154,"y":167},{"k":165,"y":167},{"k":200,"y":165},{"k":220,"y":165},{"k":240,"y":165},{"k":250,"y":165},{"k":0,"y":171.5},{"k":20,"y":171.5},{"k":40,"y":171.5},{"k":60,"y":171.5},{"k":80,"y":171.5},{"k":100,"y":171.5},{"k":120,"y":171.5},{"k":140,"y":171.5},{"k":160,"y":171.5},{"k":180,"y":171.5},{"k":200,"y":171.5},{"k":220,"y":171.5},{"k":240,"y":171.5},{"k":260,"y":171.5},{"k":2.2,"y":212},{"k":16.7,"y":212}]},"mark":{"type":"tick","orient":"vertical","height":3,"thickness":0.7,"color":"#111111"}},
{"data":{"values":[{"k":40,"k1":6.7,"y":172,"y1":194},{"k":180,"k1":202.2,"y":172,"y1":196}]},"mark":{"type":"rule","color":"#222222","strokeWidth":0.9,"strokeDash":[8,6]},"encoding":{"x2":{"field":"k1"},"y2":{"field":"y1"}}},
{"data":{"values":[{"k":17.4,"y":199.3},{"k":42.2,"y":199.3},{"k":45.2,"y":199.3},{"k":48.9,"y":199.3},{"k":54.5,"y":199.3},{"k":56.3,"y":199.3},{"k":67.4,"y":199.3},{"k":70,"y":199.3},{"k":74.8,"y":199.3},{"k":80.4,"y":199.3},{"k":83.4,"y":199.3},{"k":93.4,"y":199.3},{"k":98.9,"y":199.3},{"k":102.6,"y":199.3},{"k":106.3,"y":199.3},{"k":115.6,"y":199.3},{"k":119.3,"y":199.3},{"k":123,"y":199.3},{"k":128.5,"y":199.3},{"k":133.4,"y":199.3},{"k":160,"y":199.3},{"k":163.7,"y":199.3},{"k":167.4,"y":199.3},{"k":171.1,"y":199.3},{"k":176.7,"y":199.3},{"k":193.4,"y":199.3},{"k":17.4,"y":205.7},{"k":42.2,"y":205.7},{"k":45.2,"y":205.7},{"k":48.9,"y":205.7},{"k":54.5,"y":205.7},{"k":56.3,"y":205.7},{"k":67.4,"y":205.7},{"k":70,"y":205.7},{"k":74.8,"y":205.7},{"k":80.4,"y":205.7},{"k":83.4,"y":205.7},{"k":93.4,"y":205.7},{"k":98.9,"y":205.7},{"k":102.6,"y":205.7},{"k":106.3,"y":205.7},{"k":133,"y":205.7},{"k":137,"y":205.7},{"k":141,"y":205.7},{"k":145,"y":205.7},{"k":150,"y":205.7},{"k":155,"y":205.7},{"k":160,"y":205.7},{"k":165,"y":205.7}]},"mark":{"type":"tick","orient":"vertical","height":4,"thickness":1.3,"color":"#111111"}},
{"data":{"values":[{"k":209,"y":199.3},{"k":181.5,"y":205.7}]},"mark":{"type":"point","shape":"triangle-right","filled":true,"size":14,"color":"#111111","opacity":1}},
{"data":{"values":[{"k":0,"k1":265.6,"y":251,"y1":266.7}]},"mark":{"type":"rect","fill":null,"stroke":"#111111","strokeWidth":0.9,"cornerRadius":5},"encoding":{"x2":{"field":"k1"},"y2":{"field":"y1"}}},
{"data":{"values":[{"k":2.2,"y":258.7,"t":"RepeatMasker:"}]},"mark":{"type":"text","align":"left","fontSize":7.7,"color":"#111111"},"encoding":{"text":{"field":"t"}}},
{"data":{"values":[{"k":60,"y":258.7,"t":"DNA","c":"DNA"},{"k":82.2,"y":258.7,"t":"LINE","c":"LINE"},{"k":104.4,"y":258.7,"t":"Low_complexity","c":"LC"},{"k":167.8,"y":258.7,"t":"LTR","c":"LTR"},{"k":185.6,"y":258.7,"t":"Simple_repeat","c":"SR"},{"k":243.3,"y":258.7,"t":"SINE","c":"SINE"}]},"mark":{"type":"text","align":"left","fontSize":7.7},"encoding":{"text":{"field":"t"},"color":{"field":"c","type":"nominal","legend":null,"scale":{"domain":["DNA","LINE","LC","LTR","SR","SINE"],"range":["#cf5f8f","#555555","#d8c83c","#6b7a2a","#f0a040","#a8a8e0"]}}}},
{"data":{"values":[{"k":284.4,"y":57,"t":"CN"},{"k":283.3,"y":110,"t":"T2T-CHM13"},{"k":283.3,"y":152,"t":"GRCh38"},{"k":101,"y":116,"t":"~18.5Kbp"},{"k":214.4,"y":199.3,"t":"GRCh38"},{"k":198.9,"y":209.7,"t":"T2T-CHM13"},{"k":246.7,"y":190,"t":"exon number"},{"k":268.9,"y":199.5,"t":"47"},{"k":268.9,"y":209.7,"t":"39"}]},"mark":{"type":"text","align":"left","fontSize":8.3,"color":"#111111"},"encoding":{"text":{"field":"t"}}},
{"data":{"values":[{"k":283.3,"y":95,"t":"DupMasker"},{"k":283.3,"y":101,"t":"RepeatMasker"},{"k":283.3,"y":117,"t":"chr1:206708586-206975724"},{"k":283.3,"y":159,"t":"chr1:207443283-207728981"},{"k":2.2,"y":218,"t":"10 Kbp"},{"k":73.3,"y":213.5,"t":"CR1 gene models"}]},"mark":{"type":"text","align":"left","fontSize":6.1,"color":"#111111"},"encoding":{"text":{"field":"t"}}},
{"data":{"values":[{"k":18.9,"y":163,"t":"CR2"},{"k":116.7,"y":161,"t":"CR1"},{"k":226.7,"y":160.5,"t":"CR1L"}]},"mark":{"type":"text","fontStyle":"italic","fontSize":8.2,"color":"#111111"},"encoding":{"text":{"field":"t"}}},
{"data":{"values":[{"k":2.2,"y":178,"t":"0"},{"k":100,"y":178,"t":"100"},{"k":204.4,"y":178,"t":"200 Kbp"}]},"mark":{"type":"text","fontSize":8.2,"color":"#111111"},"encoding":{"text":{"field":"t"}}}
]},
{"width":340,"height":258,
"encoding":{"x":{"field":"x","type":"quantitative","title":"mean s.d. of CN","scale":{"domain":[0.0843,0.1813,0.66,0.68],"range":[46,266,272,296],"nice":false,"zero":false},"axis":{"values":[0.1,0.12,0.14,0.16,0.66,0.68],"format":".2f","offset":-31,"grid":false,"tickSize":3,"domainWidth":1.5,"domainColor":"#222222","tickColor":"#222222","labelFontSize":10.5,"labelColor":"#111111","labelOverlap":false,"labelFlush":false,"titleFontSize":14,"titleFontWeight":"normal","titleColor":"#111111","titleX":165,"titleY":18,"titleBaseline":"top"}},
"y":{"field":"d","type":"quantitative","title":"density","scale":{"domain":[-2.44,36.7],"range":[227,23],"nice":false,"zero":false},"axis":{"values":[0,10,20,30],"offset":-46,"grid":false,"tickSize":3,"domainWidth":1.5,"domainColor":"#222222","tickColor":"#222222","labelFontSize":10.5,"labelColor":"#111111","titleFontSize":14,"titleFontWeight":"normal","titleColor":"#111111","titleX":-20,"titleY":123}}},
"layer":[
{"data":{"name":"binsC"},"mark":{"type":"rect","fill":"#bdbdbd","stroke":"#222222","strokeWidth":0.9},"encoding":{"x2":{"field":"x1"},"y2":{"datum":0}}},
{"data":{"values":[{"x":0.13,"d":-2.44,"d1":36.3}]},"mark":{"type":"rule","color":"#333333","strokeWidth":1.3,"strokeDash":[5,3]},"encoding":{"y2":{"field":"d1"}}},
{"data":{"values":[{"x":0.669,"d":-2.44,"d1":34}]},"mark":{"type":"rule","color":"#c8483c","strokeWidth":1},"encoding":{"y2":{"field":"d1"}}},
{"data":{"name":"curveC"},"mark":{"type":"line","color":"#111111","strokeWidth":2,"interpolate":"monotone"}},
{"data":{"values":[{"x":0.1813,"x1":0.66,"d":-2.44}]},"mark":{"type":"rule","color":"white","strokeWidth":4},"encoding":{"x2":{"field":"x1"}}},
{"data":{"values":[{"x":0.261,"d":-2.44,"t":"//"}]},"mark":{"type":"text","fontSize":10,"color":"#111111"},"encoding":{"text":{"field":"t"}}},
{"data":{"values":[{"x":0.0981,"d":38.06,"t":"shuffle regions"},{"x":0.0993,"d":35.2,"t":"(CN<10)"},{"x":0.1301,"d":38.1,"t":"（p=0.21)"},{"x":0.1696,"d":38,"t":"discrepant regions"},{"x":0.6667,"d":35.05,"t":"(p=0)"}]},"mark":{"type":"text","fontSize":11.7,"color":"#111111"},"encoding":{"text":{"field":"t"}}},
{"data":{"values":[{"x":0.0666,"d":39.6,"t":"c"},{"x":0.7117,"d":39.6,"t":"d"}]},"mark":{"type":"text","baseline":"alphabetic","fontSize":20,"color":"#111111"},"encoding":{"text":{"field":"t"}}}
]},
{"width":345,"height":258,
"encoding":{"x":{"field":"x","type":"quantitative","title":"mean s.d. of CN","scale":{"domain":[0.3903,0.7208],"range":[44.3,306.7],"nice":false,"zero":false},"axis":{"values":[0.4,0.5,0.6,0.7],"format":".1f","offset":-31,"grid":false,"tickSize":3,"domainWidth":1.5,"domainColor":"#222222","tickColor":"#222222","labelFontSize":10.5,"labelColor":"#111111","labelFlush":false,"titleFontSize":14,"titleFontWeight":"normal","titleColor":"#111111","titleX":175,"titleY":18,"titleBaseline":"top"}},
"y":{"field":"d","type":"quantitative","title":"density","scale":{"domain":[-0.53,11.4],"range":[227,23],"nice":false,"zero":false},"axis":{"values":[0,2.5,5,7.5,10],"labelExpr":"''+datum.value","offset":-44.3,"grid":false,"tickSize":3,"domainWidth":1.5,"domainColor":"#222222","tickColor":"#222222","labelFontSize":10.5,"labelColor":"#111111","titleFontSize":14,"titleFontWeight":"normal","titleColor":"#111111","titleX":-17,"titleY":123}}},
"layer":[
{"data":{"name":"binsD"},"mark":{"type":"rect","fill":"#bdbdbd","stroke":"#333333","strokeWidth":0.9},"encoding":{"x2":{"field":"x1"},"y2":{"datum":0}}},
{"data":{"values":[{"x":0.5803,"d":-0.53,"d1":10.27}]},"mark":{"type":"rule","color":"#333333","strokeWidth":1.3,"strokeDash":[5,3]},"encoding":{"y2":{"field":"d1"}}},
{"data":{"values":[{"x":0.6686,"d":-0.53,"d1":10.56}]},"mark":{"type":"rule","color":"#d04a3c","strokeWidth":1.6},"encoding":{"y2":{"field":"d1"}}},
{"data":{"name":"curveD"},"mark":{"type":"line","color":"#111111","strokeWidth":2,"interpolate":"monotone"}},
{"data":{"values":[{"x":0.459,"d":11.7,"t":"shuffle regions"},{"x":0.4572,"d":10.8,"t":"(2.5<CN<10)"},{"x":0.5653,"d":10.62,"t":"(p=0.18)"},{"x":0.6396,"d":11.79,"t":"discrepant regions"},{"x":0.6724,"d":10.9,"t":"(p=0.003)"}]},"mark":{"type":"text","fontSize":11.7,"color":"#111111"},"encoding":{"text":{"field":"t"}}}
]}
]
}
